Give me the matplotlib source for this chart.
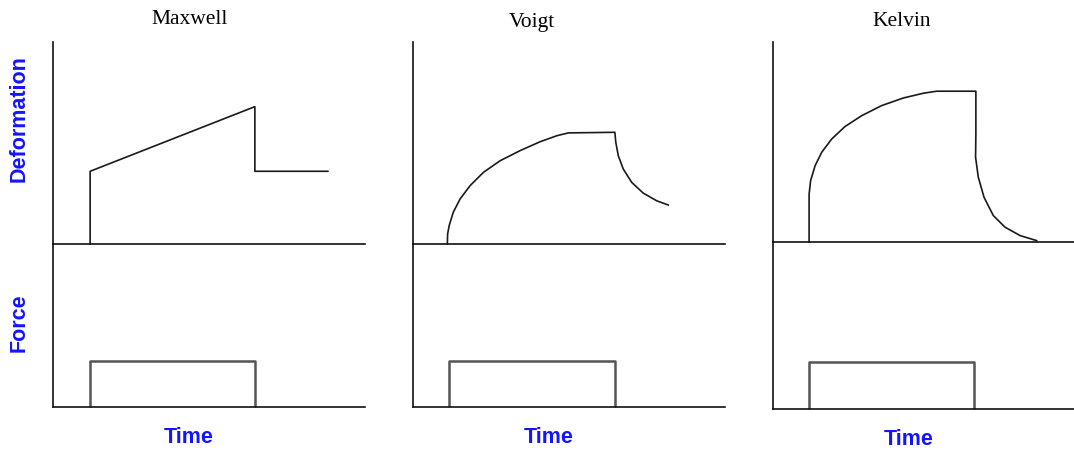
import matplotlib
matplotlib.use('Agg')
import matplotlib.pyplot as plt

# time axis runs 0..10 across each panel, deformation / force 0..10 up each axes
titles = ['Maxwell', 'Voigt', 'Kelvin']

maxwell_t = [1.19, 1.19, 6.47, 6.47, 8.81]
maxwell_def = [0.0, 3.6, 6.8, 3.6, 3.6]

voigt_t = [1.10, 1.11, 1.16, 1.29, 1.51, 1.83, 2.26, 2.79, 3.43, 4.07, 4.61, 4.98,
           6.47,
           6.50, 6.58, 6.74, 7.01, 7.38, 7.81, 8.18]
voigt_def = [0.0, 0.50, 0.91, 1.57, 2.23, 2.89, 3.55, 4.12, 4.62, 5.06, 5.36, 5.50,
             5.53,
             5.03, 4.37, 3.71, 3.05, 2.52, 2.14, 1.93]

kelvin_t = [1.20, 1.20, 1.25, 1.40, 1.62, 1.95, 2.39, 2.95, 3.61, 4.33, 5.00, 5.44,
            6.74,
            6.74, 6.73, 6.82, 7.01, 7.32, 7.71, 8.21, 8.76]
kelvin_def = [0.0, 2.40, 3.07, 3.82, 4.49, 5.15, 5.77, 6.32, 6.82, 7.20, 7.44, 7.54,
              7.54,
              5.40, 4.24, 3.24, 2.24, 1.32, 0.74, 0.32, 0.07]

force_t = [[1.19, 1.19, 6.47, 6.47],
           [1.15, 1.15, 6.47, 6.47],
           [1.20, 1.20, 6.68, 6.68]]
force_val = [0.0, 2.8, 2.8, 0.0]

deform_t = [maxwell_t, voigt_t, kelvin_t]
deform_val = [maxwell_def, voigt_def, kelvin_def]

W, H = 1074, 452

def rect(l, t, r, b):
    return [l / W, 1 - b / H, (r - l) / W, (b - t) / H]

# pixel layout: left, right, top, middle, bottom
layout = [(53, 365, 43, 245, 408),
          (413, 725, 43, 245, 408),
          (773, 1074, 43, 243, 410)]
title_pos = [(190, 20), (532, 23), (902, 21)]
time_pos = [(189, 438), (549, 438), (909, 440)]

fig = plt.figure(figsize=(W / 100, H / 100), dpi=100)

def style(ax):
    ax.set_xlim(0, 10)
    ax.set_ylim(0, 10)
    ax.spines['top'].set_visible(False)
    ax.spines['right'].set_visible(False)
    for s in ['left', 'bottom']:
        ax.spines[s].set_linewidth(1.2)
        ax.spines[s].set_color('#111111')
    ax.set_xticks([])
    ax.set_yticks([])
    ax.patch.set_alpha(0)

for i in range(3):
    l, r, t, m, b = layout[i]
    ax_top = fig.add_axes(rect(l, t, r, m))
    ax_bot = fig.add_axes(rect(l, m, r, b))
    style(ax_top)
    style(ax_bot)

    ax_top.plot(deform_t[i], deform_val[i], color='#1a1a1a', lw=1.2, clip_on=False,
                solid_joinstyle='round')
    ax_bot.plot(force_t[i], force_val, color='#555555', lw=1.8, clip_on=False,
                solid_capstyle='butt')

    tx, ty = title_pos[i]
    fig.text(tx / W, 1 - ty / H, titles[i], ha='center', va='center',
             family='Liberation Serif', fontsize=15.5, color='black')
    tx, ty = time_pos[i]
    fig.text(tx / W, 1 - ty / H, 'Time', ha='center', va='center',
             family='Liberation Sans', fontweight='bold', fontsize=15.5, color='#1414ff')

fig.text(19 / W, 1 - 119 / H, 'Deformation', rotation=90, ha='center', va='center',
         family='Liberation Sans', fontweight='bold', fontsize=15.5, color='#1414ff')
fig.text(19 / W, 1 - 323 / H, 'Force', rotation=90, ha='center', va='center',
         family='Liberation Sans', fontweight='bold', fontsize=15.5, color='#1414ff')

fig.savefig('out.png', dpi=100)
